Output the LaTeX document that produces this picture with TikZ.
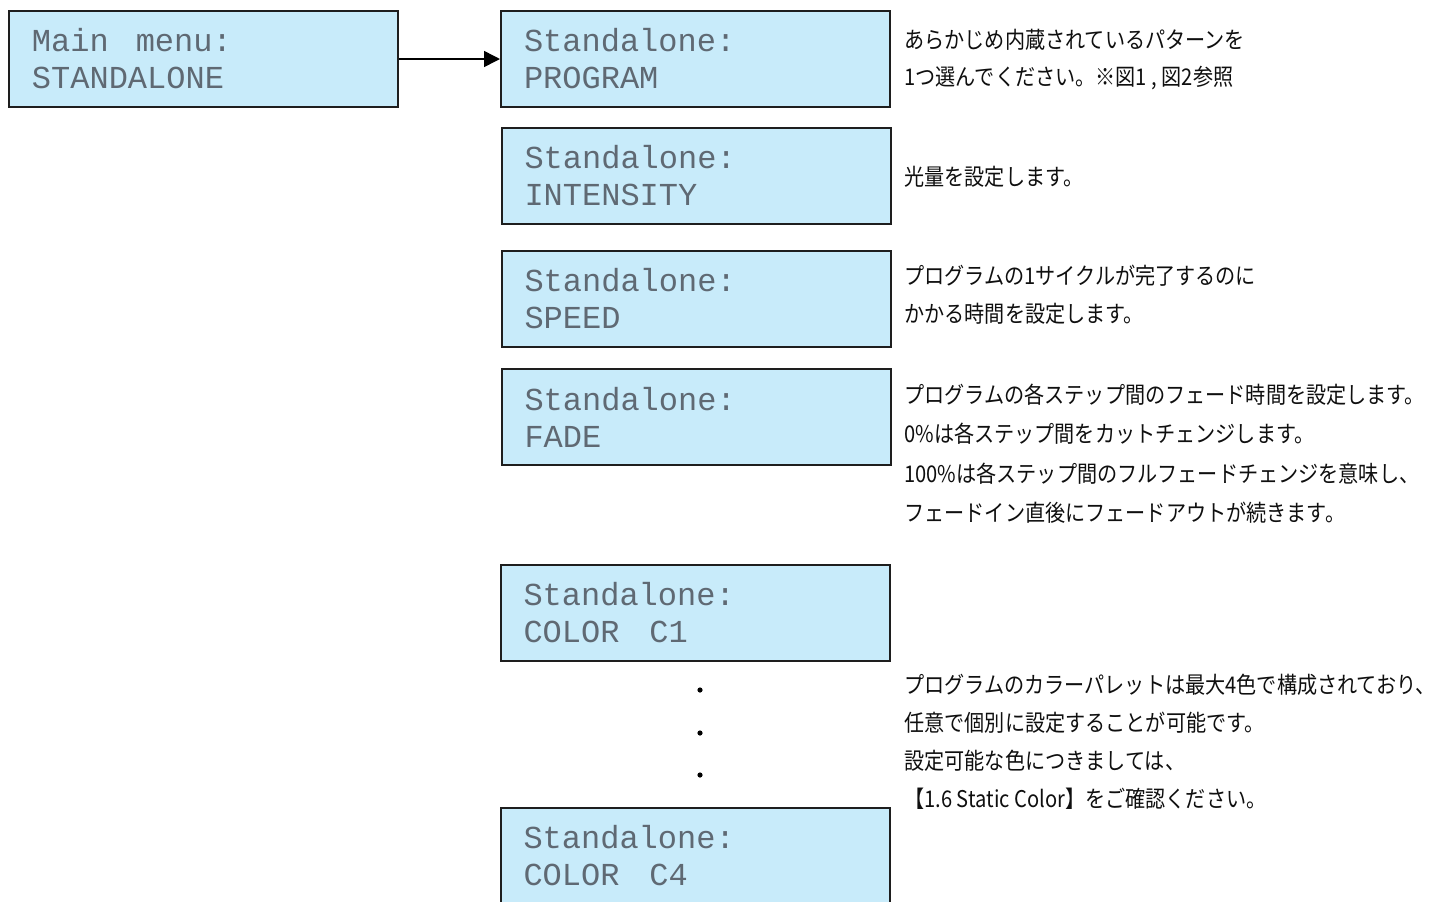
\documentclass[tikz,border=0pt]{standalone}
\usepackage{fontspec}
\newfontfamily\lcdfont{Liberation Mono}
\newfontfamily\jpfont[FakeStretch=0.875]{Noto Sans CJK JP}
\usetikzlibrary{arrows.meta}
\definecolor{lcdfill}{RGB}{200,235,250}
\definecolor{lcdtext}{RGB}{95,105,115}
\definecolor{lcdborder}{RGB}{30,30,30}
\definecolor{desctext}{RGB}{15,15,15}
\begin{document}
\begin{tikzpicture}[x=0.5pt,y=-0.5pt,
  lcd/.style={draw=lcdborder, line width=1pt, fill=lcdfill,
    minimum width=194.5pt, minimum height=48pt, text width=171.5pt,
    inner xsep=11.5pt, inner ysep=0pt, align=left, text=lcdtext,
    font=\lcdfont\fontsize{16pt}{18.5pt}\selectfont},
  desc/.style={anchor=north west, inner sep=0pt, align=left, text=desctext},
  dotmark/.style={circle, fill=black, inner sep=0pt, minimum size=2.6pt},
  link/.style={draw=black, line width=0.75pt, -{Triangle[length=8pt,width=8pt]}}]
\useasboundingbox (0,0) rectangle (1436,901);
\clip (0,0) rectangle (1436,901);
\fill[white] (0,0) rectangle (1436,901);

\node[lcd] (main)   at (203.5,59) {Main\hspace*{13.5pt}menu:\\STANDALONE};
\node[lcd] (prog)   at (695.5,59) {Standalone:\\PROGRAM};
\node[lcd] (inten)  at (696,176) {Standalone:\\INTENSITY};
\node[lcd] (speed)  at (696,298.5) {Standalone:\\SPEED};
\node[lcd] (fade)   at (696,417) {Standalone:\\FADE};
\node[lcd] (color1) at (695,613) {Standalone:\\COLOR\hspace*{15pt}C1};
\node[lcd] (color4) at (695,856) {Standalone:\\COLOR\hspace*{15pt}C4};

\node[dotmark] (d1) at (700,690) {};
\node[dotmark] (d2) at (700,733) {};
\node[dotmark] (d3) at (700,775) {};

\draw[link] (main) -- (prog);

\node[desc, font=\jpfont\fontsize{11.5pt}{18.5pt}\selectfont] (tprog) at (904,28.5)
  {あらかじめ内蔵されているパターンを\\1つ選んでください。※図1 , 図2参照};
\node[desc, font=\jpfont\fontsize{11.5pt}{18.5pt}\selectfont] (tint) at (904,165.5)
  {光量を設定します。};
\node[desc, font=\jpfont\fontsize{11.5pt}{19pt}\selectfont] (tspeed) at (904,264.5)
  {プログラムの1サイクルが完了するのに\\かかる時間を設定します。};
\node[desc, font=\jpfont\fontsize{11.5pt}{19.75pt}\selectfont] (tfade) at (904,383.5)
  {プログラムの各ステップ間のフェード時間を設定します。\\0\%は各ステップ間をカットチェンジします。\\100\%は各ステップ間のフルフェードチェンジを意味し、\\フェードイン直後にフェードアウトが続きます。};
\node[desc, font=\jpfont\fontsize{11.5pt}{19pt}\selectfont] (tcolor) at (904,673.5)
  {プログラムのカラーパレットは最大4色で構成されており、\\任意で個別に設定することが可能です。\\設定可能な色につきましては、\\【1.6 Static Color】をご確認ください。};
\end{tikzpicture}
\end{document}
